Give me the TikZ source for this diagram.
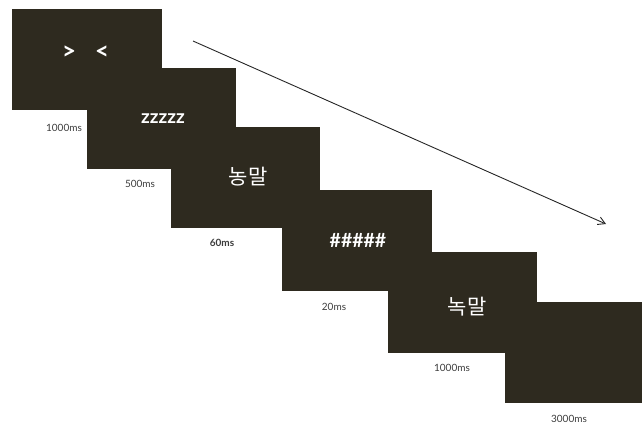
\documentclass[tikz,border=0pt]{standalone}
\usepackage{fontspec}
\setmainfont{Lato}
\newfontfamily\kr{Noto Sans CJK KR}
\usetikzlibrary{arrows.meta}
\definecolor{scr}{RGB}{46,42,31}
\definecolor{lbl}{RGB}{60,60,60}
\begin{document}
\begin{tikzpicture}[x=1pt,y=-1pt,
  screen/.style={fill=scr,draw=none,anchor=north west,inner sep=0pt,minimum width=150pt,minimum height=101pt},
  stim/.style={text=white,font=\bfseries\fontsize{19}{21}\selectfont,inner sep=0pt},
  word/.style={text=white,font=\kr\fontsize{21}{24}\selectfont,inner sep=0pt},
  dur/.style={text=lbl,font=\fontsize{10}{12}\selectfont,inner sep=0pt}]
\useasboundingbox (0,0) rectangle (642,424);
\node[screen] (s1) at (12,9) {};
\node[screen,minimum width=149pt] (s2) at (87,68) {};
\node[screen,minimum width=149pt] (s3) at (171,127) {};
\node[screen] (s4) at (282,190) {};
\node[screen,minimum width=149pt] (s5) at (388,252) {};
\node[screen,minimum width=137pt] (s6) at (505,302) {};
\node[stim,font=\bfseries\fontsize{24}{26}\selectfont] (t1a) at (69,53) {>};
\node[stim,font=\bfseries\fontsize{24}{26}\selectfont] (t1b) at (102,53) {<};
\node[stim] (t2) at (163,119) {zzzzz};
\node[word] (t3) at (248,177) {농말};
\node[stim,font=\bfseries\fontsize{19.5}{22}\selectfont] (t4) at (358,240) {\#\#\#\#\#};
\node[word] (t5) at (467,307) {녹말};
\node[dur] (d1) at (64,128) {1000ms};
\node[dur] (d2) at (140,184) {500ms};
\node[dur,font=\bfseries\fontsize{10}{12}\selectfont] (d3) at (222,243) {60ms};
\node[dur] (d4) at (334,307) {20ms};
\node[dur] (d5) at (452,368) {1000ms};
\node[dur] (d6) at (569,419) {3000ms};
\coordinate (a0) at (193,41);
\coordinate (a1) at (606,224);
\draw[line width=0.9pt,color=black!85,-{Straight Barb[length=7pt,width=8pt]}] (a0) -- (a1);
\end{tikzpicture}
\end{document}
